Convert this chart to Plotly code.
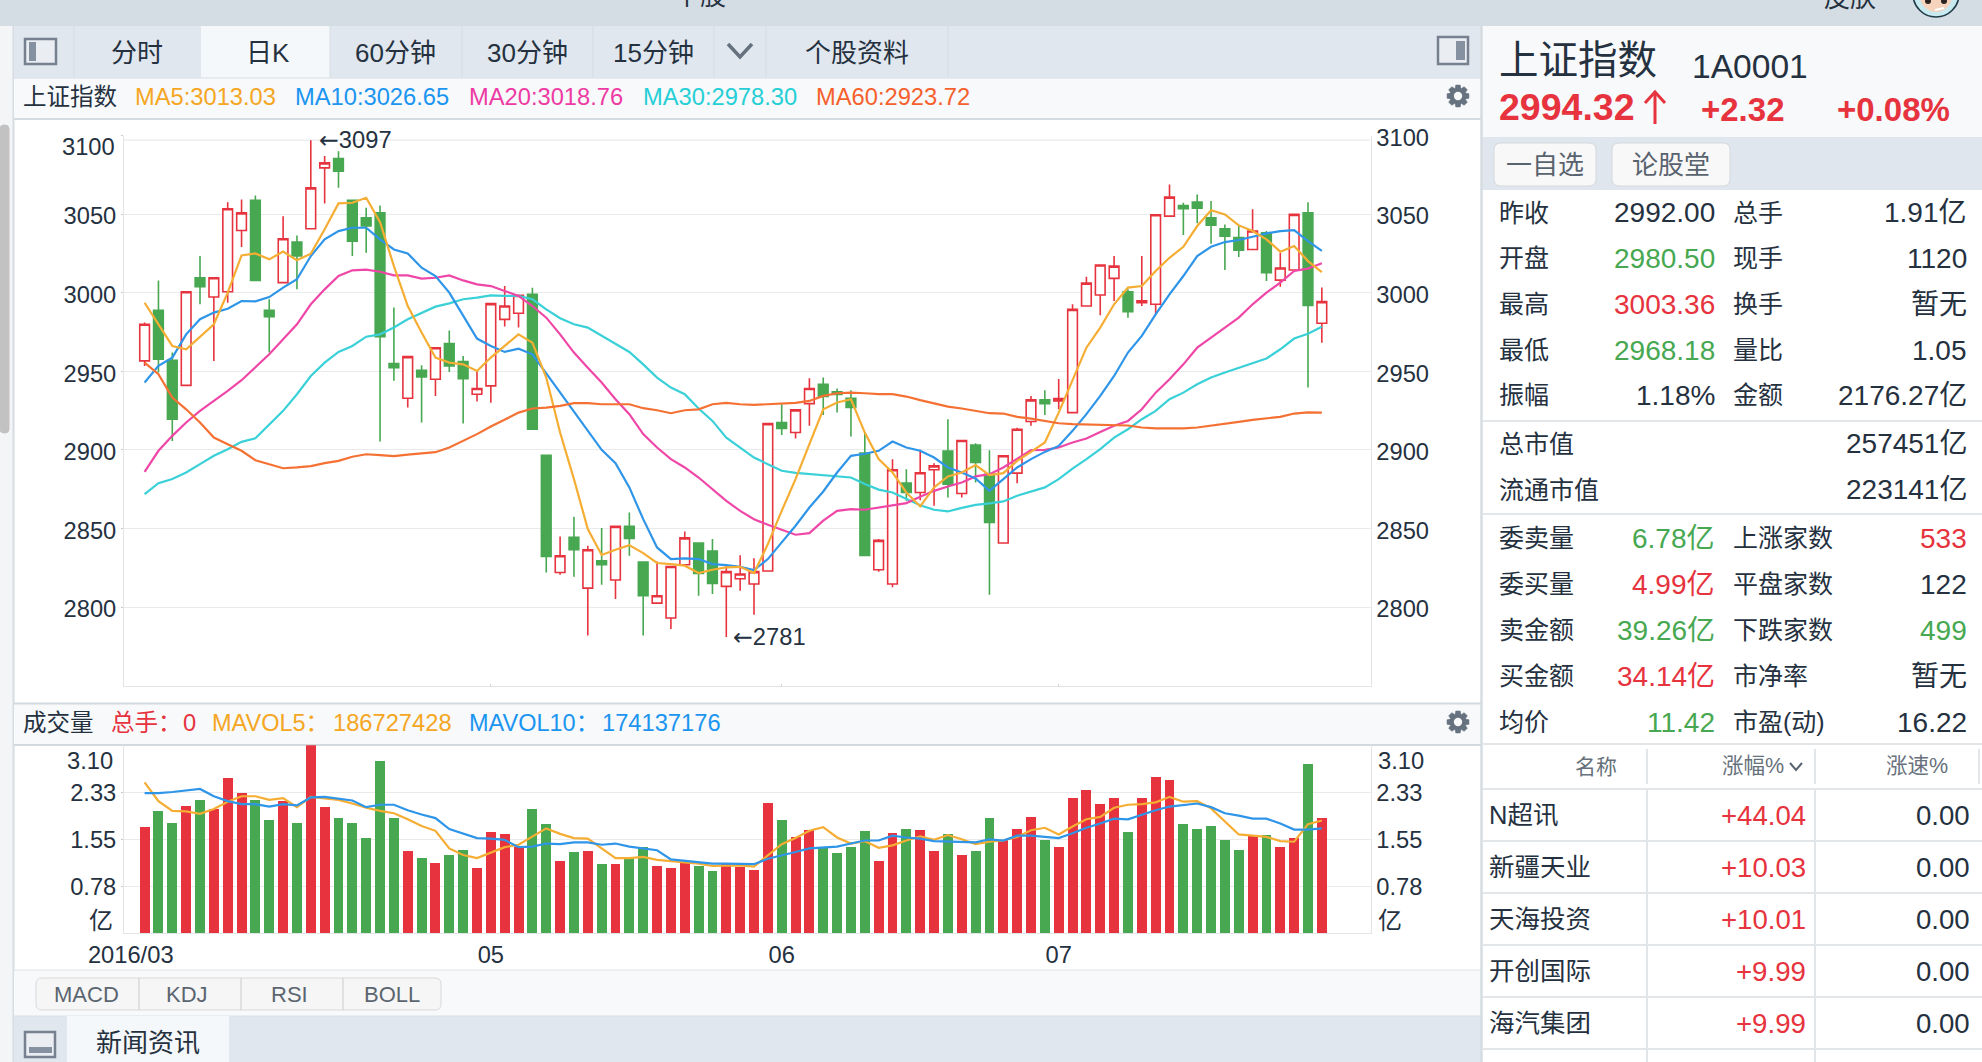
"""Shanghai Composite daily K panel with volume and the quote side bar."""

import math

import plotly.graph_objects as go

W, H = 1982, 1062
FONT = "Liberation Sans, Noto Sans CJK SC"
RED = "#e6333e"
GREEN = "#47a851"
INK = "#25313f"

# daily candles, Mar-Jul 2016
opens = [2956.6, 2988.8, 2957.0, 2941, 3009.5, 2997.2, 3000.6, 3039.6, 3058.7, 2988.8, 3006.4, 3032.2, 3040.7, 3079.4, 3085.4, 3058.7, 3047.7, 3050.8, 2954.9, 2932.8, 2950.6, 2944.9, 2967.6, 2956.1, 2935.4, 2940.7, 2983, 2986.9, 2998.9, 2896.6, 2822, 2844.3, 2812, 2829.4, 2817.2, 2851.3, 2828.6, 2802.5, 2793, 2826.9, 2840.7, 2835.6, 2813.1, 2818, 2814.6, 2822.9, 2917.4, 2911, 2929.4, 2941.7, 2936.9, 2932.8, 2897.9, 2823.7, 2814.6, 2878.8, 2872.9, 2887.3, 2899.2, 2872.2, 2903, 2884.5, 2840.7, 2885.2, 2918, 2931.8, 2931.1, 2923.7, 2991.5, 2998.5, 3009.1, 3000.6, 2993.6, 2992.6, 3048.7, 3055.5, 3057.6, 3047.7, 3040.7, 3035, 3027.5, 3038.1, 3008, 3014.4, 3050.8, 2980.5]
highs = [2981, 3007.8, 2961.9, 3000.6, 3023.3, 3009.5, 3057.6, 3059.3, 3061.9, 2995.8, 3048.7, 3036.4, 3097, 3086.9, 3090, 3058.7, 3054, 3055.5, 2990.5, 2959.7, 2953.8, 2965, 2976, 2959.7, 2950.2, 2993, 3004.2, 2998.9, 3003.2, 2896.6, 2844.9, 2857.4, 2839, 2850.2, 2851.3, 2860.2, 2828.6, 2829, 2825.8, 2848, 2840.7, 2843.2, 2827.1, 2833, 2831.1, 2916.7, 2929, 2925.4, 2945.6, 2946, 2939, 2937.9, 2911, 2843.2, 2894, 2887.7, 2900, 2891.5, 2919.5, 2905.9, 2904.2, 2899.8, 2896.2, 2914, 2934.3, 2937.9, 2945, 2992.6, 3010.2, 3017.6, 3023.3, 3002.1, 3023.3, 3049.6, 3068.9, 3057.2, 3062.5, 3058.3, 3043.4, 3042.4, 3053, 3039.2, 3025.4, 3049.8, 3057.6, 3003.36]
lows = [2953.4, 2949.2, 2905.7, 2941, 2992.6, 2956.6, 2993.6, 3029, 3007.4, 2961.9, 3006.4, 3002.1, 3040.7, 3056.8, 3066.7, 3023.3, 3025.4, 2905.3, 2943.9, 2926.9, 2917.4, 2934.3, 2949.6, 2916.7, 2930.7, 2930, 2978.4, 2977.8, 2913.1, 2822, 2820.6, 2819.3, 2781.8, 2814.2, 2805.1, 2832.6, 2781.8, 2802.5, 2786, 2826.9, 2807.2, 2808.3, 2781, 2810.4, 2795, 2822.9, 2909.5, 2907.2, 2915.3, 2922.2, 2923.7, 2908.5, 2832.8, 2822.5, 2812.5, 2867.6, 2868, 2864.4, 2869.7, 2869.7, 2879.2, 2807.8, 2840.7, 2878.8, 2915.3, 2922.2, 2925.8, 2923.7, 2991.5, 2985.6, 2994.7, 2984.1, 2991.5, 2986.2, 3048.3, 3036.7, 3044.1, 3031.1, 3014.4, 3022.7, 3027.5, 3007.4, 3003.8, 3014.4, 2939.6, 2968.18]
closes = [2979.9, 2957.6, 2919.5, 3000.6, 3003.8, 3009.5, 3053.4, 3050.8, 3007.8, 2984.7, 3034.3, 3023.3, 3066.7, 3082.6, 3077.3, 3032.8, 3042.4, 2972, 2952.3, 2959.3, 2946.4, 2965, 2953.4, 2945.3, 2939, 2993, 2991.5, 2998.3, 2913.1, 2832.2, 2832.6, 2836.4, 2836.4, 2826.9, 2851.3, 2843.6, 2807.2, 2807.2, 2825.8, 2844, 2821.4, 2815, 2822.5, 2821, 2822.5, 2916.7, 2913.6, 2925.4, 2939, 2933.9, 2935.2, 2926.9, 2832.8, 2842.4, 2887.3, 2872.9, 2885.4, 2889.8, 2878.2, 2905.9, 2892, 2853.8, 2896.2, 2913.1, 2931.8, 2929.4, 2932.6, 2989.4, 3006.1, 3017.6, 3016.9, 2987.9, 2994.9, 3049.6, 3060.8, 3053.4, 3053.8, 3043, 3036, 3027.1, 3039.2, 3012.7, 3015.7, 3049.8, 2991.9, 2994.32]

ma5 = [2993.6, 2979.9, 2966.1, 2964.0, 2972.0, 2979.9, 3000.0, 3023.7, 3025.0, 3021.2, 3026.1, 3020.6, 3024.8, 3040.3, 3056.8, 3057.2, 3060.4, 3044.9, 3016.9, 2991.5, 2974.6, 2958.7, 2955.5, 2954.4, 2950.2, 2958.7, 2966.1, 2973.5, 2968.2, 2946.0, 2911.0, 2881.4, 2849.6, 2833.1, 2836.4, 2839.4, 2834.3, 2828.0, 2827.3, 2826.3, 2821.6, 2823.7, 2825.2, 2825.6, 2821.6, 2840.0, 2861.2, 2881.4, 2903.6, 2925.8, 2930.1, 2932.2, 2911.0, 2894.1, 2885.6, 2872.9, 2864.0, 2876.1, 2883.1, 2885.6, 2890.3, 2883.9, 2885.2, 2893.0, 2898.7, 2904.7, 2923.7, 2943.9, 2965.0, 2977.8, 2992.6, 3003.2, 3004.2, 3013.8, 3022.2, 3029.2, 3042.4, 3052.5, 3049.8, 3042.8, 3039.2, 3033.9, 3026.1, 3029.7, 3020.1, 3013.03]
ma10 = [2942.8, 2953.4, 2958.7, 2973.5, 2983.1, 2987.3, 2989.8, 2994.7, 2994.5, 2997.2, 3003.2, 3008.5, 3023.3, 3033.9, 3039.2, 3041.3, 3041.3, 3033.9, 3027.5, 3025.0, 3015.9, 3010.6, 3000.0, 2985.2, 2970.8, 2966.1, 2962.3, 2964.4, 2960.8, 2948.7, 2936.4, 2924.8, 2912.1, 2900.0, 2891.5, 2876.1, 2855.9, 2837.9, 2830.5, 2830.9, 2830.5, 2827.3, 2826.7, 2825.6, 2823.5, 2830.5, 2841.1, 2851.7, 2863.3, 2873.5, 2885.6, 2896.2, 2897.5, 2899.4, 2905.3, 2901.5, 2899.4, 2895.1, 2888.8, 2885.6, 2881.8, 2873.9, 2881.4, 2888.8, 2894.1, 2898.7, 2902.5, 2912.1, 2922.7, 2934.3, 2947.0, 2961.9, 2972.5, 2986.2, 2998.9, 3010.6, 3023.3, 3029.2, 3032.2, 3033.5, 3035.6, 3037.7, 3039.2, 3039.8, 3032.8, 3026.65]
ma20 = [2886.0, 2899.4, 2908.9, 2917.4, 2924.8, 2931.1, 2937.5, 2944.3, 2952.3, 2960.8, 2970.3, 2979.9, 2992.6, 3002.1, 3010.6, 3014.2, 3014.6, 3013.3, 3011.0, 3011.0, 3008.9, 3009.5, 3011.0, 3007.8, 3005.3, 3004.2, 3001.1, 2997.9, 2991.5, 2984.1, 2973.5, 2961.9, 2952.3, 2942.8, 2932.2, 2922.7, 2910.0, 2901.5, 2894.1, 2888.8, 2882.4, 2875.0, 2867.6, 2861.2, 2855.9, 2852.3, 2849.2, 2846.0, 2847.0, 2854.9, 2861.2, 2862.3, 2861.9, 2863.3, 2864.8, 2866.1, 2870.1, 2873.9, 2876.7, 2879.2, 2883.1, 2884.5, 2888.8, 2894.1, 2899.8, 2900.0, 2901.5, 2904.7, 2907.2, 2911.4, 2915.3, 2918.4, 2925.8, 2936.4, 2944.9, 2954.4, 2965.0, 2971.4, 2977.8, 2984.1, 2992.6, 3000.0, 3006.4, 3013.8, 3015.3, 3018.76]
ma30 = [2871.8, 2878.8, 2881.4, 2885.6, 2890.9, 2896.2, 2900.4, 2905.1, 2907.4, 2916.3, 2924.8, 2935.4, 2947.0, 2955.5, 2962.3, 2966.1, 2972.0, 2973.5, 2977.8, 2983.1, 2987.3, 2991.1, 2993.2, 2995.8, 2996.8, 2998.3, 2997.9, 2997.9, 2995.8, 2989.4, 2983.7, 2979.9, 2977.8, 2972.5, 2967.2, 2962.3, 2954.4, 2946.0, 2939.6, 2935.4, 2926.3, 2918.4, 2907.8, 2901.5, 2895.1, 2890.9, 2886.7, 2885.4, 2884.7, 2884.1, 2883.5, 2882.4, 2878.2, 2874.7, 2872.9, 2868.6, 2864.8, 2861.9, 2860.8, 2863.1, 2865.0, 2865.9, 2867.2, 2870.8, 2873.5, 2876.1, 2881.4, 2888.1, 2894.1, 2900.4, 2907.8, 2913.1, 2919.5, 2924.8, 2932.2, 2936.4, 2941.7, 2946.0, 2949.2, 2952.3, 2955.1, 2958.1, 2964.0, 2970.8, 2973.9, 2978.30]
ma60 = [2955.5, 2948.1, 2933.3, 2925.8, 2917.4, 2907.8, 2903.6, 2899.4, 2893.4, 2890.9, 2888.3, 2888.8, 2889.6, 2891.5, 2893.0, 2895.6, 2897.2, 2896.6, 2896.0, 2897.0, 2897.7, 2898.5, 2901.5, 2905.7, 2910.0, 2914.8, 2919.5, 2923.7, 2926.3, 2926.9, 2928.0, 2929.7, 2929.7, 2929.0, 2929.0, 2929.0, 2926.5, 2925.2, 2923.3, 2925.2, 2925.8, 2929.0, 2929.9, 2929.0, 2928.6, 2929.0, 2929.7, 2929.9, 2931.1, 2934.3, 2936.0, 2936.4, 2936.0, 2935.4, 2935.4, 2933.9, 2931.6, 2929.7, 2927.5, 2926.3, 2924.8, 2923.3, 2923.1, 2921.0, 2919.9, 2918.4, 2916.9, 2916.3, 2916.1, 2916.1, 2916.1, 2915.5, 2914.2, 2913.6, 2913.6, 2913.6, 2914.2, 2915.3, 2916.5, 2917.8, 2919.1, 2919.9, 2921.0, 2923.1, 2923.9, 2923.72]

# volume in 100 million lots
volume = [1.74, 2.02, 1.82, 2.10, 2.20, 2.05, 2.56, 2.31, 2.20, 1.87, 2.18, 1.82, 3.12, 2.07, 1.89, 1.82, 1.56, 2.83, 1.89, 1.36, 1.24, 1.16, 1.29, 1.37, 1.08, 1.67, 1.64, 1.42, 2.05, 1.79, 1.19, 1.34, 1.36, 1.13, 1.14, 1.23, 1.41, 1.11, 1.08, 1.18, 1.11, 1.03, 1.14, 1.09, 1.04, 2.15, 1.87, 1.59, 1.70, 1.42, 1.32, 1.42, 1.69, 1.19, 1.65, 1.72, 1.70, 1.36, 1.64, 1.29, 1.36, 1.90, 1.54, 1.72, 1.92, 1.54, 1.41, 2.22, 2.35, 2.12, 2.22, 1.67, 2.23, 2.58, 2.53, 1.79, 1.72, 1.77, 1.54, 1.37, 1.62, 1.61, 1.42, 1.56, 2.79, 1.90]
mavol5 = [2.49, 2.18, 2.02, 2.01, 1.97, 2.05, 2.17, 2.26, 2.26, 2.20, 2.23, 2.08, 2.25, 2.22, 2.20, 2.14, 2.07, 2.02, 1.98, 1.88, 1.77, 1.69, 1.40, 1.29, 1.24, 1.33, 1.42, 1.46, 1.59, 1.73, 1.64, 1.57, 1.56, 1.40, 1.24, 1.24, 1.26, 1.21, 1.19, 1.18, 1.15, 1.11, 1.12, 1.12, 1.10, 1.29, 1.47, 1.57, 1.69, 1.75, 1.58, 1.48, 1.52, 1.41, 1.45, 1.53, 1.60, 1.54, 1.62, 1.55, 1.47, 1.51, 1.53, 1.59, 1.70, 1.74, 1.63, 1.76, 1.88, 1.92, 2.07, 2.12, 2.13, 2.16, 2.25, 2.17, 2.18, 2.06, 1.84, 1.63, 1.61, 1.59, 1.52, 1.51, 1.80, 1.86]
mavol10 = [2.31, 2.31, 2.33, 2.36, 2.38, 2.26, 2.18, 2.13, 2.13, 2.09, 2.13, 2.11, 2.24, 2.25, 2.22, 2.19, 2.08, 2.12, 2.12, 2.03, 1.96, 1.90, 1.72, 1.64, 1.57, 1.56, 1.54, 1.42, 1.43, 1.48, 1.47, 1.50, 1.50, 1.46, 1.48, 1.43, 1.40, 1.37, 1.22, 1.20, 1.18, 1.15, 1.15, 1.15, 1.14, 1.23, 1.28, 1.34, 1.40, 1.42, 1.43, 1.48, 1.53, 1.53, 1.61, 1.58, 1.56, 1.52, 1.51, 1.50, 1.50, 1.55, 1.53, 1.61, 1.61, 1.59, 1.57, 1.65, 1.74, 1.81, 1.89, 1.88, 1.96, 2.03, 2.09, 2.11, 2.14, 2.08, 1.98, 1.94, 1.89, 1.89, 1.81, 1.71, 1.71, 1.73]

x_index = list(range(len(closes)))
month_ticks = [-1, 25, 46, 66]
month_labels = ["2016/03", "05", "06", "07"]
price_ticks = [3100, 3050, 3000, 2950, 2900, 2850, 2800]
vol_ticks = [0.775, 1.55, 2.325]
vol_labels = ["0.78", "1.55", "2.33"]

tabs = ["分时", "日K", "60分钟", "30分钟", "15分钟", "个股资料"]
tab_centers = [137, 268, 395, 527, 653, 857]
indicator_buttons = ["MACD", "KDJ", "RSI", "BOLL"]
button_centers = [86, 187, 289, 392]

stat_left = [("昨收", "2992.00", INK), ("开盘", "2980.50", GREEN), ("最高", "3003.36", RED), ("最低", "2968.18", GREEN), ("振幅", "1.18%", INK)]
stat_right = [("总手", "1.91亿", INK), ("现手", "1120", INK), ("换手", "暂无", INK), ("量比", "1.05", INK), ("金额", "2176.27亿", INK)]
stat_rows = [213, 258, 304, 350, 395]
cap_rows = [("总市值", "257451亿", 444), ("流通市值", "223141亿", 490)]
order_left = [("委卖量", "6.78亿", GREEN), ("委买量", "4.99亿", RED), ("卖金额", "39.26亿", GREEN), ("买金额", "34.14亿", RED), ("均价", "11.42", GREEN)]
order_right = [("上涨家数", "533", RED), ("平盘家数", "122", INK), ("下跌家数", "499", GREEN), ("市净率", "暂无", INK), ("市盈(动)", "16.22", INK)]
order_rows = [538, 584, 630, 676, 722]
rank_names = ["N超讯", "新疆天业", "天海投资", "开创国际", "海汽集团"]
rank_pct = ["+44.04", "+10.03", "+10.01", "+9.99", "+9.99"]
rank_speed = ["0.00", "0.00", "0.00", "0.00", "0.00"]
rank_rows = [815, 867, 919, 971, 1023]


def fx(x):
    return x / W


def fy(y):
    return 1 - y / H


shapes = []
notes = []


def rect(x0, y0, x1, y1, fill=None, line=None, width=1):
    shapes.append(dict(type="rect", xref="paper", yref="paper", layer="below",
                       x0=fx(x0), x1=fx(x1), y0=fy(y0), y1=fy(y1),
                       fillcolor=fill or "rgba(0,0,0,0)",
                       line=dict(color=line or "rgba(0,0,0,0)", width=width if line else 0)))


def rule(x0, y0, x1, y1, color="#e1e6ea", width=1.5):
    shapes.append(dict(type="line", xref="paper", yref="paper", layer="below",
                       x0=fx(x0), x1=fx(x1), y0=fy(y0), y1=fy(y1),
                       line=dict(color=color, width=width)))


def rrect(x0, y0, x1, y1, r, fill, line=None):
    a, b, c, d = fx(x0), fx(x1), fy(y0), fy(y1)
    rx, ry = r / W, r / H
    path = (f"M{a + rx},{c} L{b - rx},{c} Q{b},{c} {b},{c - ry} L{b},{d + ry} Q{b},{d} {b - rx},{d} "
            f"L{a + rx},{d} Q{a},{d} {a},{d + ry} L{a},{c - ry} Q{a},{c} {a + rx},{c} Z")
    shapes.append(dict(type="path", xref="paper", yref="paper", layer="below", path=path,
                       fillcolor=fill, line=dict(color=line or fill, width=1)))


def circle(cx, cy, rx, ry, fill, line=None, width=1):
    shapes.append(dict(type="circle", xref="paper", yref="paper", layer="below",
                       x0=fx(cx - rx), x1=fx(cx + rx), y0=fy(cy + ry), y1=fy(cy - ry), fillcolor=fill,
                       line=dict(color=line or fill, width=width if line else 0)))


def polyline(points, color, width):
    path = "M" + " L".join(f"{fx(x)},{fy(y)}" for x, y in points)
    shapes.append(dict(type="path", xref="paper", yref="paper", layer="below", path=path,
                       line=dict(color=color, width=width)))


def gear(cx, cy, bg):
    pts = []
    for i in range(8):
        mid = i * math.pi / 4
        for off, r in [(-0.36, 8.2), (-0.2, 11.2), (0.2, 11.2), (0.36, 8.2)]:
            pts.append((cx + r * math.cos(mid + off), cy + r * math.sin(mid + off)))
    path = "M" + " L".join(f"{fx(x)},{fy(y)}" for x, y in pts) + " Z"
    shapes.append(dict(type="path", xref="paper", yref="paper", layer="below", path=path,
                       fillcolor="#66727f", line=dict(color="#66727f", width=0.5)))
    circle(cx, cy, 4.2, 4.2, bg)


def label(x, y, s, size=24, color=INK, anchor="left"):
    notes.append(dict(xref="paper", yref="paper", x=fx(x), y=fy(y), text=s, showarrow=False,
                      xanchor=anchor, yanchor="middle", align=anchor, borderpad=0, borderwidth=0,
                      font=dict(family=FONT, size=size, color=color)))


# page chrome
rect(0, 0, W, 26, "#d4dde4")
rect(0, 26, 14, H, "#f4f5f6")
rrect(0, 125, 9, 433, 4, "#c2c2c2")
rule(13.5, 26, 13.5, H, "#d5dce2", 2)
rect(14, 26, 1481, 78, "#e0e7ee")
rect(201, 26, 330, 78, "#f5f8fa")
for xd in [74, 330, 462, 593, 714, 766, 948]:
    rule(xd, 26, xd, 78, "#d5dde4", 1)
rect(14, 78, 1481, 119, "#f7f9fb")
rule(14, 78, 1481, 78, "#d9e0e5", 1)
rule(14, 119, 1481, 119, "#d5dce1", 2)
rect(14, 703, 1481, 745, "#f7f9fb")
rule(14, 703.5, 1481, 703.5, "#d3dade", 2)
rule(14, 745, 1481, 745, "#d3dade", 2)
rect(14, 970, 1481, 1016, "#f7f9fb")
rule(14, 970, 1481, 970, "#dfe4e8", 1)
rect(14, 1016, 1481, H, "#e0e7ee")
rule(14, 1016, 1481, 1016, "#d9e0e5", 1)
rect(67, 1016, 229, H, "#f5f8fa")

# panel toggle icons
rect(25, 39, 56, 64, "#eaeef2", "#76808f", 2.5)
rect(29, 42, 36, 61, "#8590a0")
rect(1438, 37, 1468, 64, "#eaeef2", "#76808f", 2.5)
rect(1456, 41, 1465, 60, "#8590a0")
rect(25, 1032, 55, 1057, "#eaeef2", "#76808f", 2.5)
rect(29, 1047, 52, 1053, "#8590a0")
polyline([(728, 44), (740, 57), (752, 44)], "#66717f", 3.5)

for name, cx in zip(tabs, tab_centers):
    label(cx, 53, name, 26, INK, "center")
label(700, -4, "个股", 26, INK, "center")
label(1850, -2, "皮肤", 26, INK, "center")

# avatar, mostly off the top of the page
circle(1936, -6, 23, 23, "#c8e9ef", "#1f3c48", 1.6)
circle(1936, -6, 16.5, 18, "#f6d3bd")
circle(1928, 1, 3, 3, "#2b2320")
circle(1944, 1, 3, 3, "#2b2320")
polyline([(1935, 10), (1944, 8)], "#ffffff", 2)

# legend rows
label(23, 97, "上证指数", 23.5)
label(135, 97, "MA5:3013.03", 23.7, "#f5a623")
label(295, 97, "MA10:3026.65", 23.7, "#1b95f0")
label(469, 97, "MA20:3018.76", 23.7, "#ee3ba3")
label(643, 97, "MA30:2978.30", 23.7, "#26cfd6")
label(816, 97, "MA60:2923.72", 23.7, "#f6602d")
gear(1458, 96, "#f7f9fb")
label(23, 723, "成交量", 23.5)
label(111, 723, "总手：", 23.5, RED)
label(183, 723, "0", 23.7, RED)
label(212, 723, "MAVOL5：", 23.5, "#f5a623")
label(333, 723, "186727428", 23.7, "#f5a623")
label(469, 723, "MAVOL10：", 23.5, "#1b95f0")
label(602, 723, "174137176", 23.7, "#1b95f0")
gear(1458, 722, "#f7f9fb")

# indicator buttons
rrect(36, 978, 441, 1010, 6, "#f6f6f6", "#d8d9da")
for xd in [139, 241, 343]:
    rule(xd, 978, xd, 1010, "#d8d9da", 1.5)
for name, cx in zip(indicator_buttons, button_centers):
    label(cx, 994, name, 22, "#5b6570", "center")
label(148, 1043, "新闻资讯", 26, INK, "center")

# labels that sit off their gridline
label(114.7, 147, "3100", 23.7, INK, "right")
label(113, 761, "3.10", 23.7, INK, "right")
label(113, 920, "亿", 24, INK, "right")
label(1378, 761, "3.10", 23.7, INK)
label(1378, 920, "亿", 24, INK)

# side bar
rect(1481, 26, W, H, "#ffffff")
rect(1482, 26, W, 137, "#f7f9fb")
rect(1482, 137, W, 190, "#dfe6ed")
rule(1481.5, 26, 1481.5, H, "#d5dce2", 2.5)
label(1499, 60, "上证指数", 39.5)
label(1692, 67, "1A0001", 33.6)
label(1499, 107, "<b>2994.32</b>", 37.5, RED)
polyline([(1655, 92), (1655, 124)], RED, 3)
polyline([(1645, 103), (1655, 92), (1665, 103)], RED, 3)
label(1701, 110, "<b>+2.32</b>", 33, RED)
label(1837, 110, "<b>+0.08%</b>", 33, RED)
rrect(1494, 143, 1596, 186, 7, "#f8f8f8", "#d4d8dc")
rrect(1612, 143, 1730, 186, 7, "#f8f8f8", "#d4d8dc")
label(1545, 165, "一自选", 26, "#59636f", "center")
label(1671, 165, "论股堂", 26, "#59636f", "center")

for y_row, (name, val, col), (name2, val2, col2) in zip(stat_rows, stat_left, stat_right):
    label(1499, y_row, name, 25)
    label(1715, y_row, val, 28, col, "right")
    label(1733, y_row, name2, 25)
    label(1967, y_row, val2, 28, col2, "right")
rule(1482, 421, W, 421, "#e3e6e9", 2)
for name, val, y_row in cap_rows:
    label(1499, y_row, name, 25)
    label(1967, y_row, val, 28, INK, "right")
rule(1482, 514, W, 514, "#e3e6e9", 2)
for y_row, (name, val, col), (name2, val2, col2) in zip(order_rows, order_left, order_right):
    label(1499, y_row, name, 25)
    label(1715, y_row, val, 28, col, "right")
    label(1733, y_row, name2, 25)
    label(1967, y_row, val2, 28, col2, "right")
rule(1482, 744, W, 744, "#e3e6e9", 2)
label(1596, 766, "名称", 21, "#67717c", "center")
label(1753, 766, "涨幅%", 21.5, "#67717c", "center")
polyline([(1790, 763), (1796, 770), (1802, 763)], "#59636f", 2)
label(1917, 766, "涨速%", 21.5, "#67717c", "center")
rule(1482, 789, W, 789, "#e3e6e9", 2)
for xd in [1647, 1815, 1979]:
    rule(xd, 749, xd, 784, "#e3e6e9", 2)
for xd in [1647, 1815]:
    rule(xd, 790, xd, H, "#e3e6e9", 2)
for y_rule in [841, 893, 945, 997, 1049]:
    rule(1482, y_rule, W, y_rule, "#e3e6e9", 2)
for name, pct, speed, y_row in zip(rank_names, rank_pct, rank_speed, rank_rows):
    label(1489, y_row, name, 25.5)
    label(1806, y_row, pct, 27.6, RED, "right")
    label(1970, y_row, speed, 27.6, INK, "right")

fig = go.Figure()
fig.add_trace(go.Candlestick(
    x=x_index, open=opens, high=highs, low=lows, close=closes, xaxis="x", yaxis="y",
    increasing=dict(line=dict(color=RED, width=1.6), fillcolor="#ffffff"),
    decreasing=dict(line=dict(color=GREEN, width=1.6), fillcolor=GREEN),
    whiskerwidth=0, hoverinfo="skip", showlegend=False))
for values, color, axis in [(ma60, "#f57133", "y3"), (ma30, "#3ad0d8", "y"), (ma20, "#ef47a7", "y"),
                            (ma10, "#2e95e8", "y"), (ma5, "#f5ad33", "y")]:
    fig.add_trace(go.Scatter(x=x_index, y=values, mode="lines", xaxis="x", yaxis=axis,
                             line=dict(color=color, width=2.2), hoverinfo="skip", showlegend=False))
fig.add_trace(go.Bar(x=x_index, y=volume, xaxis="x2", yaxis="y2", width=0.715,
                     marker=dict(color=[RED if c >= o else GREEN for o, c in zip(opens, closes)], line=dict(width=0)),
                     hoverinfo="skip", showlegend=False))
fig.add_trace(go.Scatter(x=x_index, y=mavol5, mode="lines", xaxis="x2", yaxis="y2",
                         line=dict(color="#f5ad33", width=2.2), hoverinfo="skip", showlegend=False))
fig.add_trace(go.Scatter(x=x_index, y=mavol10, mode="lines", xaxis="x2", yaxis="y4",
                         line=dict(color="#2e95e8", width=2.2), hoverinfo="skip", showlegend=False))

# the chart draws a faint line at the period high too
shapes.append(dict(type="line", xref="x", yref="y", layer="below", x0=-1.48, x1=88.5,
                   y0=max(highs), y1=max(highs), line=dict(color="#e8eaec", width=1.2)))

# high and low markers
arrow = "<span style=\"font-family:'DejaVu Sans'\">←</span>"
notes.append(dict(xref="x", yref="y", x=12, y=max(highs), text=f"{arrow}3097", showarrow=False, xanchor="left",
                  yanchor="middle", xshift=6, font=dict(family=FONT, size=23.7, color=INK)))
notes.append(dict(xref="x", yref="y", x=42, y=min(lows), text=f"{arrow}2781", showarrow=False, xanchor="left",
                  yanchor="middle", xshift=5, font=dict(family=FONT, size=23.7, color=INK)))

x_range = [-1.487, 88.52]
x_domain = [fx(124), fx(1370.6)]
grid = "#e8eaec"
axis_line = "#e2e5e8"
tick_font = dict(family=FONT, size=23.7, color=INK)

fig.update_layout(
    width=W, height=H, margin=dict(l=0, r=0, t=0, b=0, autoexpand=False),
    paper_bgcolor="#ffffff", plot_bgcolor="#ffffff",
    font=dict(family=FONT, color=INK), showlegend=False, bargap=0,
    boxmode="group", boxgap=0.3, boxgroupgap=0,
    shapes=shapes, annotations=notes,
    xaxis=dict(domain=x_domain, range=x_range, anchor="y", rangeslider=dict(visible=False), showgrid=False,
               tickmode="array", tickvals=month_ticks[1:], showticklabels=False, ticks="inside", ticklen=2,
               tickcolor="#d0d4d8", showline=True, linecolor=axis_line, linewidth=1, zeroline=False),
    yaxis=dict(domain=[fy(685.6), fy(135.5)], range=[2750, 3100], anchor="x", tickmode="array",
               tickvals=price_ticks, ticktext=[""] + [str(v) for v in price_ticks[1:]], tickfont=tick_font,
               ticklabelshift=2, gridcolor=grid, gridwidth=1.2, ticks="outside", ticklen=2, tickcolor="#c8ccd0",
               showline=True, linecolor=axis_line, linewidth=1, zeroline=False),
    yaxis3=dict(overlaying="y", side="right", range=[2750, 3100], anchor="x", tickmode="array",
                tickvals=price_ticks, tickfont=tick_font, ticklabelshift=2, showgrid=False, showline=True,
                linecolor=axis_line, linewidth=1, zeroline=False),
    xaxis2=dict(domain=x_domain, range=x_range, anchor="y2", showgrid=False, tickmode="array",
                tickvals=month_ticks, ticktext=month_labels, tickfont=tick_font, ticks="",
                showline=True, linecolor=axis_line, linewidth=1, zeroline=False),
    yaxis2=dict(domain=[fy(933.3), fy(745.3)], range=[0, 3.10], anchor="x2", tickmode="array",
                tickvals=vol_ticks, ticktext=vol_labels, tickfont=tick_font, gridcolor=grid, gridwidth=1.2,
                ticks="outside", ticklen=2, tickcolor="#c8ccd0", showline=True, linecolor=axis_line, linewidth=1,
                zeroline=False),
    yaxis4=dict(overlaying="y2", side="right", range=[0, 3.10], anchor="x2", tickmode="array",
                tickvals=vol_ticks, ticktext=vol_labels, tickfont=tick_font, showgrid=False, showline=True,
                linecolor=axis_line, linewidth=1, zeroline=False),
)

fig.write_html("out.html", config={"displayModeBar": False},
               post_script="document.body.style.margin='0';document.body.style.overflow='hidden';")
